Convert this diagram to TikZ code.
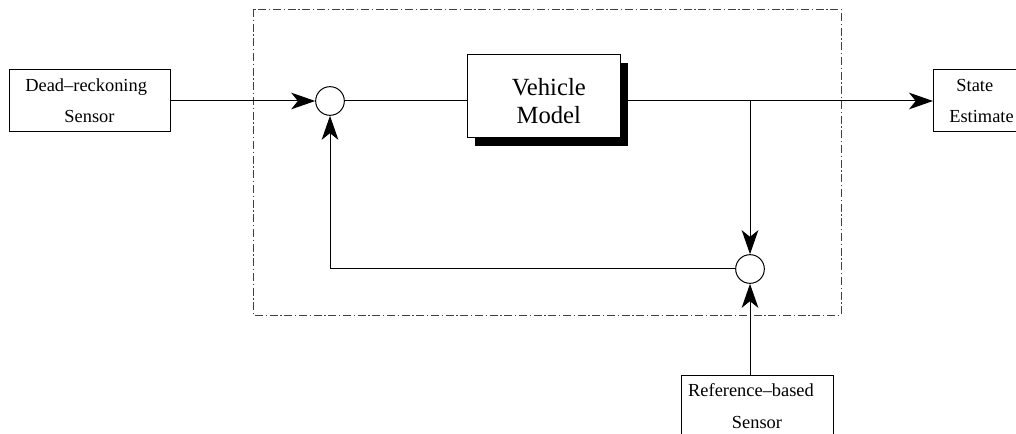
\documentclass[tikz,border=0pt]{standalone}
\usepackage{fontspec}
\setmainfont{Liberation Serif}
\usetikzlibrary{arrows.meta,shadows}
\begin{document}
\begin{tikzpicture}[x=0.75pt,y=-0.75pt,
  line width=0.75pt,
  blk/.style={draw,fill=white,inner sep=0pt,align=center},
  sumpt/.style={draw,circle,fill=white,inner sep=0pt,minimum size=21.5pt},
  sig/.style={-{Stealth[length=18pt,width=12.5pt,inset=5pt]}},
  frame/.style={draw=black!75,line width=0.6pt,dash pattern=on 6pt off 2pt on 1pt off 2pt},
  txt/.style={font=\fontsize{13.8}{23.5}\selectfont},
  bigtxt/.style={font=\fontsize{18.5}{21}\selectfont}]
\useasboundingbox (0,0) rectangle (1016,434);
\clip (0,0) rectangle (1016,434);

% observer boundary
\draw[frame] (253,9) rectangle (841,315);

% blocks
\node[blk,txt,minimum width=120.75pt,minimum height=46.5pt] (dr) at (89.5,101)
  {Dead–reckoning\hspace*{5pt}\\Sensor};
\node[blk,bigtxt,minimum width=114.75pt,minimum height=62.25pt,
  drop shadow={shadow xshift=6pt,shadow yshift=-6pt,fill=black,opacity=1}] (vm) at (543.5,96.5)
  {\rule{0pt}{20pt}\hspace{8pt}Vehicle\\\hspace{8pt}Model};
\node[blk,txt,minimum width=72pt,minimum height=46.5pt,anchor=west] (st) at (933,101)
  {\hspace*{-10pt}State\\Estimate};
\node[blk,txt,minimum width=114pt,minimum height=60pt,anchor=north] (rs) at (757,375)
  {Reference–based\hspace*{9pt}\\Sensor\rule[-14pt]{0pt}{0pt}};

% summing junctions
\node[sumpt] (s1) at (330,101) {};
\node[sumpt] (s2) at (750,269) {};
\coordinate (br) at (750,101);

% signal paths
\draw[sig] (dr.east) -- (s1.west);
\draw (s1.east) -- (s1.east -| vm.west);
\draw[sig] (vm.east |- s1) -- (st.west);
\draw[sig] (br) -- (s2.north);
\draw[sig] (s2.west) -| (s1.south);
\draw[sig] (rs.north -| s2) -- (s2.south);
\end{tikzpicture}
\end{document}
